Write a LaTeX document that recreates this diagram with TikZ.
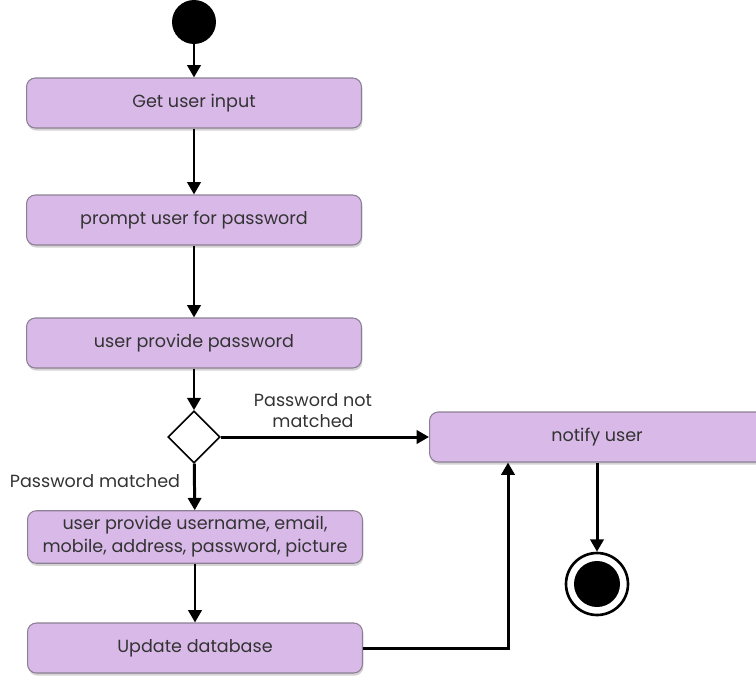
\documentclass[tikz,border=0pt]{standalone}
\usepackage{fontspec}
\setmainfont{Poppins}
\usetikzlibrary{arrows.meta,shapes.geometric,shadows}
\definecolor{lilac}{HTML}{D8B9E8}
\definecolor{lilacedge}{HTML}{8C7F93}
\definecolor{inkgray}{HTML}{333333}

\tikzset{
  activity/.style={rectangle, rounded corners=5pt, draw=lilacedge, line width=0.6pt, fill=lilac,
    minimum width=6.7cm, minimum height=1cm, align=center, text=inkgray, font=\fontsize{10}{13}\selectfont,
    drop shadow={shadow xshift=0.5pt, shadow yshift=-1.5pt, opacity=0.35}},
  flow/.style={-{Triangle[width=7.5pt,length=7pt]}, line width=1.7pt},
  flowlabel/.style={align=center, text=inkgray, font=\fontsize{10}{12}\selectfont}
}

\begin{document}
\begin{tikzpicture}[x=0.02cm, y=0.02cm]
        \useasboundingbox (0,0) rectangle (756,-676);

        % Inicio
        \node[circle, fill=black, minimum size=0.88cm, inner sep=0pt] (start) at (194,-22) {};

        % Actividades
        \node[activity] (input) at (194,-103) {Get user input};
        \node[activity] (prompt) at (194,-220) {prompt user for password};
        \node[activity] (provide) at (194,-343) {user provide password};
        \node[diamond, draw, line width=0.9pt, fill=white, minimum size=1.04cm, inner sep=0pt] (check) at (194,-437) {};
        \node[activity] (notify) at (597,-437) {notify user};
        \node[activity] (details) at (195,-537) {user provide username, email,\\mobile, address, password, picture};
        \node[activity] (update) at (195,-648) {Update database};

        % Fin
        \node[circle, draw, line width=1.5pt, fill=white, minimum size=1.24cm, inner sep=0pt] (stop) at (597,-584) {};
        \node[circle, fill=black, minimum size=0.92cm, inner sep=0pt] at (stop) {};

        % Flechas
        \draw[flow] (start) -- (input);
        \draw[flow] (input) -- (prompt);
        \draw[flow] (prompt) -- (provide);
        \draw[flow] (provide) -- (check);
        \draw[flow] (check) -- (notify);
        \draw[flow] (check) -- (details);
        \draw[flow] (details) -- (update);
        \draw[flow] (update.east) -| (notify.south -| 508,0);
        \draw[flow] (notify) -- (stop);

        % Etiquetas
        \node[flowlabel] (notmatched) at (313,-411) {Password not\\matched};
        \node[flowlabel] (matched) at (95,-481) {Password matched};
    \end{tikzpicture}
\end{document}
